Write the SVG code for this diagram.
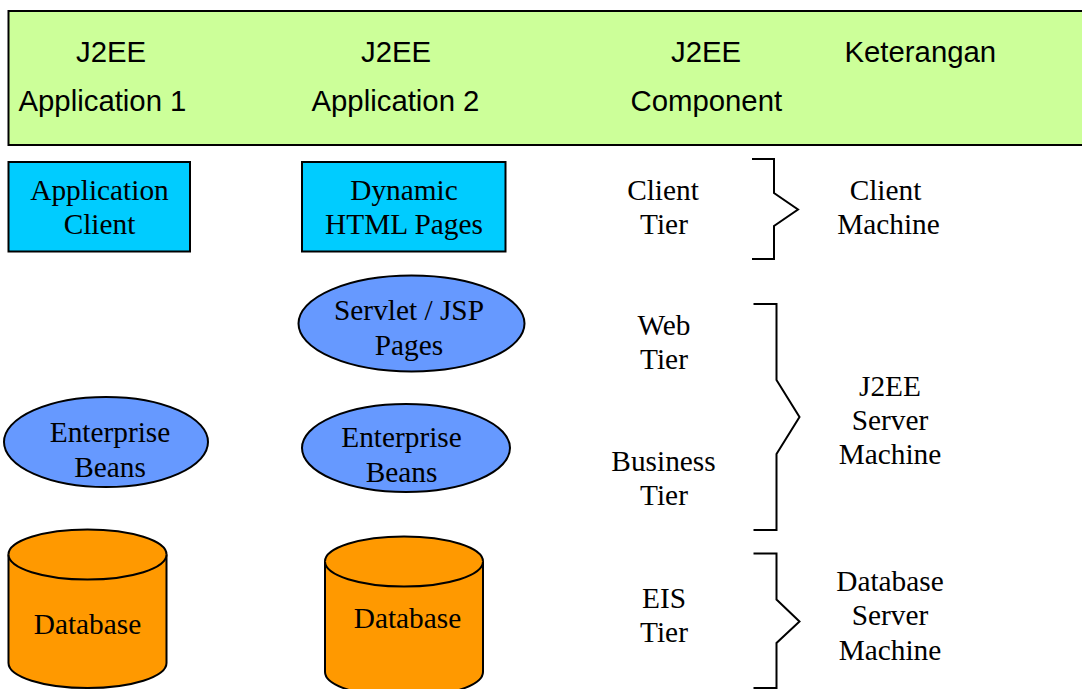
<svg xmlns="http://www.w3.org/2000/svg" width="1082" height="689" viewBox="0 0 1082 689">
  <style>
    .hdr { fill: #CCFF99; stroke: #000; stroke-width: 2; }
    .box { fill: #00CCFF; stroke: #000; stroke-width: 2; }
    .bean { fill: #6699FF; stroke: #000; stroke-width: 2; }
    .db { fill: #FF9900; stroke: #000; stroke-width: 2; }
    .brace { fill: none; stroke: #000; stroke-width: 2; }
    .sans { font-family: "Liberation Sans", Arial, sans-serif; font-size: 29.33px; fill: #000; }
    .serif { font-family: "Liberation Serif", "Times New Roman", serif; font-size: 29.33px; fill: #000; text-anchor: middle; }
  </style>

  <!-- header band -->
  <g id="header">
    <rect class="hdr" x="8.5" y="11" width="1090" height="134"/>
    <text class="sans" x="76" y="61.5">J2EE</text>
    <text class="sans" x="18.5" y="111">Application 1</text>
    <text class="sans" x="361" y="61.5">J2EE</text>
    <text class="sans" x="311.5" y="111">Application 2</text>
    <text class="sans" x="671" y="61.5">J2EE</text>
    <text class="sans" x="630.5" y="111">Component</text>
    <text class="sans" x="844.5" y="61.5">Keterangan</text>
  </g>

  <!-- application 1 -->
  <g id="app-client">
    <rect class="box" x="8.5" y="162" width="181.5" height="89.5"/>
    <text class="serif" x="99.5" y="200">Application</text>
    <text class="serif" x="99.5" y="234">Client</text>
  </g>

  <g id="beans-1">
    <ellipse class="bean" cx="106" cy="442" rx="102" ry="45"/>
    <text class="serif" x="110" y="442">Enterprise</text>
    <text class="serif" x="110" y="476.5">Beans</text>
  </g>

  <g id="database-1">
    <path class="db" d="M8.5,554.5 A79,25 0 0 1 166.5,554.5 L166.5,663 A79,25 0 0 1 8.5,663 Z"/>
    <path class="db" d="M8.5,554.5 A79,25 0 0 0 166.5,554.5"/>
    <text class="serif" x="87.5" y="634">Database</text>
  </g>

  <!-- application 2 -->
  <g id="dynamic-html">
    <rect class="box" x="302" y="162" width="203.5" height="89.5"/>
    <text class="serif" x="404" y="200">Dynamic</text>
    <text class="serif" x="404" y="234">HTML Pages</text>
  </g>

  <g id="servlet-jsp">
    <ellipse class="bean" cx="411.5" cy="323.5" rx="113" ry="48"/>
    <text class="serif" x="409" y="320">Servlet / JSP</text>
    <text class="serif" x="409" y="354.5">Pages</text>
  </g>

  <g id="beans-2">
    <ellipse class="bean" cx="406" cy="448" rx="104" ry="44"/>
    <text class="serif" x="401.5" y="446.5">Enterprise</text>
    <text class="serif" x="401.5" y="481.5">Beans</text>
  </g>

  <g id="database-2">
    <path class="db" d="M325,561.5 A79,25 0 0 1 483,561.5 L483,672 A79,25 0 0 1 325,672 Z"/>
    <path class="db" d="M325,561.5 A79,25 0 0 0 483,561.5"/>
    <text class="serif" x="407.5" y="627.5">Database</text>
  </g>

  <!-- tier names -->
  <g id="tiers">
    <text class="serif" x="663" y="199.5">Client</text>
    <text class="serif" x="664" y="233.5">Tier</text>
    <text class="serif" x="664" y="335">Web</text>
    <text class="serif" x="664" y="368.5">Tier</text>
    <text class="serif" x="663.5" y="470.5">Business</text>
    <text class="serif" x="664" y="504.5">Tier</text>
    <text class="serif" x="664" y="607.5">EIS</text>
    <text class="serif" x="664" y="642">Tier</text>
  </g>

  <!-- braces grouping tiers into machines -->
  <g id="braces">
    <path class="brace" d="M752,159 H774 V193 L798,209.5 L774,226 V259 H752"/>
    <path class="brace" d="M753.5,304 H776.5 V380 L799.5,417 L776.5,454 V530 H753.5"/>
    <path class="brace" d="M753.5,553.5 H776.5 V599.5 L799.5,621.5 L776.5,643 V688 H753.5"/>
  </g>

  <!-- machine names -->
  <g id="machines">
    <text class="serif" x="885.5" y="199.5">Client</text>
    <text class="serif" x="888.5" y="233.5">Machine</text>
    <text class="serif" x="890" y="395.5">J2EE</text>
    <text class="serif" x="890" y="430">Server</text>
    <text class="serif" x="890" y="464">Machine</text>
    <text class="serif" x="890" y="590.5">Database</text>
    <text class="serif" x="890" y="624.5">Server</text>
    <text class="serif" x="890" y="659.5">Machine</text>
  </g>
</svg>
